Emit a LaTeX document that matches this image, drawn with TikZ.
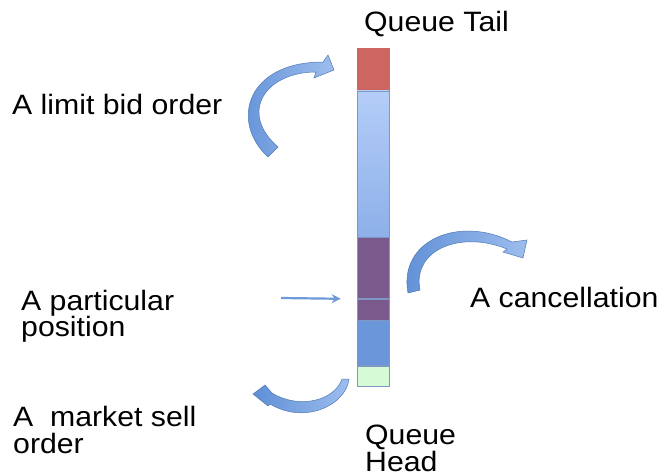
\documentclass[tikz,border=0pt]{standalone}
\usepackage{fontspec}
\setmainfont[FakeStretch=1.08]{Liberation Sans}
\usetikzlibrary{arrows.meta}

\definecolor{tailred}{HTML}{CD6661}
\definecolor{waitlight}{HTML}{B4CDF8}
\definecolor{waitmid}{HTML}{8DB0E9}
\definecolor{ownpurple}{HTML}{7A5A8C}
\definecolor{aheadblue}{HTML}{6C96DA}
\definecolor{headgreen}{HTML}{D6F9D6}
\definecolor{segedge}{HTML}{7F97C4}
\definecolor{arrowdark}{HTML}{5F8FD6}
\definecolor{arrowlight}{HTML}{9DBDEE}

\tikzset{
  seg/.style={draw=segedge, line width=0.6pt, minimum width=32pt, inner sep=0pt, anchor=north},
  lbl/.style={font=\fontsize{28}{27}\selectfont, inner sep=0pt, align=left},
  bend arrow/.style={draw=arrowdark!85!black, line width=0.5pt, left color=arrowdark, right color=arrowlight},
}

\begin{document}
\begin{tikzpicture}[x=1pt, y=-1pt]
    \useasboundingbox (0,0) rectangle (657,476);

    % the queue, tail on top
    \node[seg, draw=tailred, fill=tailred, minimum height=42pt] (tail) at (373,48) {};
    \node[seg, top color=waitlight, bottom color=waitmid, minimum height=146pt] (waiting) at (tail.south) {};
    \node[seg, fill=ownpurple, minimum height=61pt] (mine) at (waiting.south) {};
    \node[seg, fill=ownpurple, minimum height=21pt] (mine2) at (mine.south) {};
    \node[seg, fill=aheadblue, minimum height=45pt] (ahead) at (mine2.south) {};
    \node[seg, fill=headgreen, minimum height=20pt] (head) at (ahead.south) {};

    % labels (multi-line ones sit on their last line)
    \node[lbl, anchor=base west] (taillbl) at (364,32) {Queue Tail};
    \node[lbl, anchor=base west] (bidlbl) at (12,115) {A limit bid order};
    \node[lbl, anchor=base west] (poslbl) at (21,337) {A particular\\position};
    \node[lbl, anchor=base west] (canlbl) at (470,308) {A cancellation};
    \node[lbl, anchor=base west] (selllbl) at (13,453) {A\ \ market sell\\order};
    \node[lbl, anchor=base west] (headlbl) at (365,471) {Queue\\Head};

    % pointer to the position
    \coordinate (ptr) at (281,298);
    \draw[arrowdark!90, line width=2.2pt, -{Stealth[length=9pt, width=9pt]}] (ptr) -- ([xshift=-16pt]mine2.north west);

    % new bid joins at the tail
    \path[bend arrow] (268,157) .. controls (230,122) and (246,62) .. (323,62)
        -- (328,55) -- (334,70) -- (314,78) -- (316,72)
        .. controls (266,72) and (238,112) .. (278,147) -- cycle;

    % cancellation leaves the queue
    \path[bend arrow] (408,293) .. controls (398,240) and (460,215) .. (512,242)
        -- (527,240) -- (523,258) -- (503,252) -- (507,249)
        .. controls (460,230) and (412,250) .. (420,290) -- cycle;

    % market sell order takes the head
    \path[bend arrow] (349,379) .. controls (346,405) and (305,425) .. (270,404)
        -- (268,406) -- (253,394) -- (265,385) -- (272,393)
        .. controls (300,410) and (335,400) .. (342,379) -- cycle;
\end{tikzpicture}
\end{document}
